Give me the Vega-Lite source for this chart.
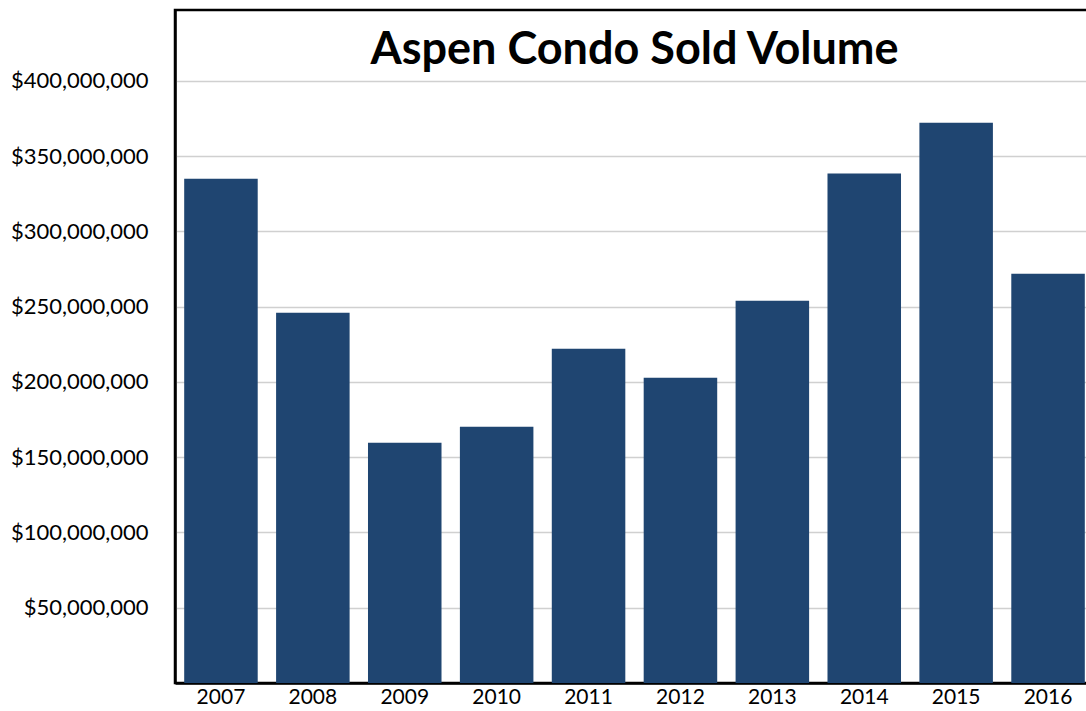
{
  "$schema": "https://vega.github.io/schema/vega-lite/v6.json",
  "autosize": {"type": "none"},
  "padding": {"left": 175, "top": 10, "right": 0, "bottom": 28},
  "width": 919,
  "height": 673,
  "background": "white",
  "title": {
    "text": "Aspen Condo Sold Volume",
    "font": "Lato",
    "fontSize": 45,
    "fontWeight": "bold",
    "color": "#000000",
    "anchor": "middle",
    "baseline": "alphabetic",
    "offset": -99
  },
  "data": {
    "values": [
      {"year": "2007", "volume": 334900000},
      {"year": "2008", "volume": 245900000},
      {"year": "2009", "volume": 159500000},
      {"year": "2010", "volume": 170200000},
      {"year": "2011", "volume": 222000000},
      {"year": "2012", "volume": 202700000},
      {"year": "2013", "volume": 253900000},
      {"year": "2014", "volume": 338400000},
      {"year": "2015", "volume": 372100000},
      {"year": "2016", "volume": 271900000}
    ]
  },
  "mark": {"type": "bar", "color": "#1f4571"},
  "encoding": {
    "x": {
      "field": "year",
      "type": "ordinal",
      "scale": {"paddingInner": 0.2, "paddingOuter": 0.1},
      "axis": {
        "title": null,
        "labelAngle": 0,
        "labelFont": "Lato",
        "labelFontSize": 21,
        "labelColor": "#000000",
        "labelPadding": 3,
        "ticks": false,
        "domainColor": "#000000",
        "domainWidth": 2.5
      }
    },
    "y": {
      "field": "volume",
      "type": "quantitative",
      "scale": {"domain": [0, 447000000], "nice": false},
      "axis": {
        "title": null,
        "values": [50000000, 100000000, 150000000, 200000000, 250000000, 300000000, 350000000, 400000000],
        "format": "$,.0f",
        "labelFont": "Lato",
        "labelFontSize": 22,
        "labelColor": "#000000",
        "labelPadding": 27,
        "ticks": false,
        "domainColor": "#000000",
        "domainWidth": 2.5,
        "gridColor": "#d0d0d0",
        "gridWidth": 1.5
      }
    }
  },
  "config": {
    "view": {"stroke": "#000000", "strokeWidth": 2.5}
  }
}
